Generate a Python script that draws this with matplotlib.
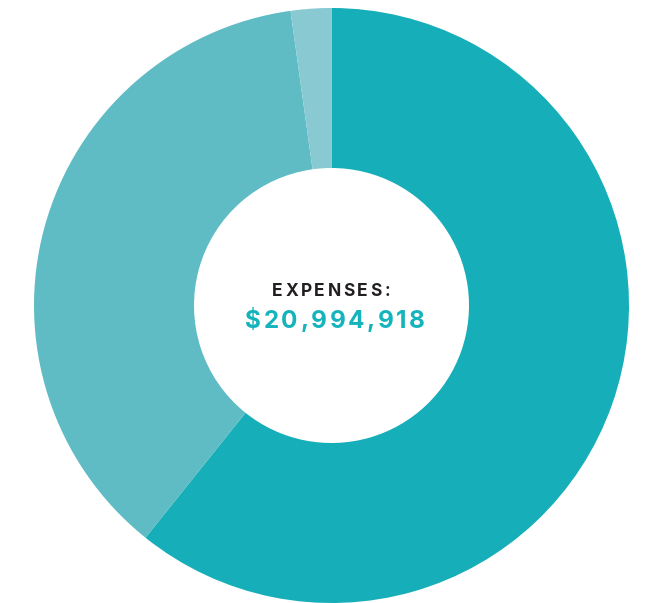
import matplotlib
matplotlib.use("Agg")
import matplotlib.pyplot as plt

labels = ["A", "B", "C"]
values = [0.6075, 0.3705, 0.022]
colors = ["#15aeb9", "#5fbbc4", "#89cad2"]
title = "EXPENSES:"
total = "$20,994,918"

fig = plt.figure(figsize=(6.5, 6.03), dpi=100)
ax = fig.add_axes([0, 0, 1, 1])

cx, cy, r = 331.5, 297.5, 297.5
ax.pie(values, colors=colors, startangle=90, counterclock=False,
       radius=r, center=(cx, cy), frame=True,
       wedgeprops=dict(width=r - 137.5, linewidth=0))
ax.set_xlim(0, 650)
ax.set_ylim(0, 603)
ax.set_aspect("equal")
ax.axis("off")

fig.canvas.draw()
renderer = fig.canvas.get_renderer()


def spaced_text(s, x0, y, size, color, track):
    # letters one by one, matplotlib has no letter spacing
    parts = []
    widths = []
    for ch in s:
        t = ax.text(0, y, ch, fontsize=size, fontweight="bold", color=color,
                    family="Inter", ha="left", va="center")
        bb = t.get_window_extent(renderer)
        parts.append(t)
        widths.append(bb.width)
    full = sum(widths) + track * (len(s) - 1)
    x = x0 - full / 2
    for t, w in zip(parts, widths):
        t.set_x(x)
        x += w + track


spaced_text(title, cx - 0.5, 603 - 291, 12.5, "#231f20", 2.6)
spaced_text(total, cx + 3.5, 603 - 321, 17.5, "#15b4bd", 2.6)

fig.savefig("out.png", dpi=100)
